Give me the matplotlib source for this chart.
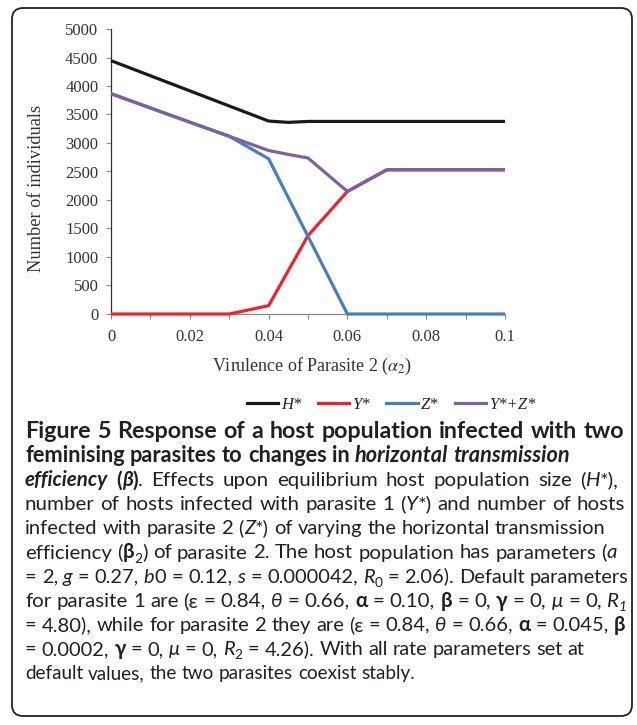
import matplotlib
matplotlib.use("Agg")
import re
import statistics
import matplotlib.pyplot as plt
from matplotlib.patches import FancyBboxPatch
from matplotlib.transforms import IdentityTransform
from matplotlib.lines import Line2D

# ---------------- data ----------------
alpha2 = [0.0, 0.01, 0.02, 0.03, 0.04, 0.045, 0.05, 0.06, 0.07, 0.08, 0.09, 0.10]
H_star = [4445, 4180, 3915, 3650, 3385, 3362, 3378, 3378, 3378, 3378, 3378, 3378]
Y_star = [0, 0, 0, 0, 146, 760, 1375, 2150, 2530, 2530, 2530, 2530]
Z_star = [3865, 3615, 3365, 3118, 2724, 2040, 1362, 0, 0, 0, 0, 0]
YZ_star = [3865, 3615, 3365, 3118, 2868, 2800, 2737, 2150, 2530, 2530, 2530, 2530]

series_labels = ["H*", "Y*", "Z*", "Y*+Z*"]
series_colors = ["#1a1a1a", "#ee2229", "#4a7ebb", "#7d60a0"]
y_ticks = [0, 500, 1000, 1500, 2000, 2500, 3000, 3500, 4000, 4500, 5000]
x_ticks = [0, 0.02, 0.04, 0.06, 0.08, 0.1]
x_ticklabels = ["0", "0.02", "0.04", "0.06", "0.08", "0.1"]
x_minor = [0.01, 0.03, 0.05, 0.07, 0.09]

W, Hpx = 637, 725
plt.rcParams["mathtext.fontset"] = "stix"
serif = ["Liberation Serif", "DejaVu Serif"]
fig = plt.figure(figsize=(W / 100, Hpx / 100), dpi=100)

def fx(px):
    return px / W

def fy(py):
    return 1 - py / Hpx

ax = fig.add_axes([fx(111), fy(314), (505 - 111) / W, (314 - 29) / Hpx])
ys = [H_star, Y_star, Z_star, YZ_star]
for i in range(4):
    ax.plot(alpha2, ys[i], color=series_colors[i], lw=2.3, solid_joinstyle="round",
            solid_capstyle="butt", clip_on=False, zorder=3 + i)

ax.set_xlim(0, 0.1)
ax.set_ylim(0, 5000)
ax.set_yticks(y_ticks)
ax.set_yticklabels([str(v) for v in y_ticks], family=serif, fontsize=12, color="#333333")
ax.set_xticks(x_ticks)
ax.set_xticklabels(x_ticklabels, family=serif, fontsize=12, color="#333333")
ax.set_xticks(x_minor, minor=True)
ax.tick_params(axis="both", which="both", direction="out", length=3.6, width=0.8,
               color="#8a8a8a")
ax.tick_params(axis="x", which="major", pad=7)
ax.tick_params(axis="y", which="major", pad=5.5)
for s in ["top", "right"]:
    ax.spines[s].set_visible(False)
ax.spines["left"].set_color("#333333")
ax.spines["bottom"].set_color("#8a8a8a")
ax.spines["left"].set_linewidth(0.9)
ax.spines["bottom"].set_linewidth(0.9)

fig.text(fx(37), fy(188), "Number of individuals", rotation=90, ha="center", va="center",
         family=serif, fontsize=13.2, color="#333333")
fig.text(fx(312), fy(366), r"Virulence of Parasite 2 ($\alpha_2$)", ha="center",
         va="center", family=serif, fontsize=13, color="#333333")

handles = [Line2D([0], [0], color=c, lw=2.3) for c in series_colors]
leg = fig.legend(handles, series_labels, loc="center", bbox_to_anchor=(fx(391), fy(405)),
                 ncol=4, frameon=False, handlelength=1.9, handletextpad=0.15,
                 columnspacing=1.0, prop={"family": serif, "style": "italic", "size": 12})
for t in leg.get_texts():
    t.set_color("#222222")

# border
box = FancyBboxPatch((12, Hpx - 716), 620, 708, boxstyle="round,pad=0,rounding_size=11",
                     transform=IdentityTransform(), fill=False, lw=1.3, ec="#222222")
fig.add_artist(box)

# ---------------- caption ----------------
cap_font = ["Lato", "DejaVu Sans"]
styles = {
    "r": dict(weight="normal", style="normal"),
    "i": dict(weight="normal", style="italic"),
    "b": dict(weight="bold", style="normal"),
    "bi": dict(weight="bold", style="italic"),
}
caption = [
    [("b", "Figure 5 Response of a host population infected with two")],
    [("b", "feminising parasites to changes in "), ("bi", "horizontal transmission")],
    [("bi", "efficiency"), ("b", " ("), ("bi", "β"), ("b", ")"),
     ("r", ". Effects upon equilibrium host population size ("), ("i", "H"), ("r", "*),")],
    [("r", "number of hosts infected with parasite 1 ("), ("i", "Y"), ("r", "*) and number of hosts")],
    [("r", "infected with parasite 2 ("), ("i", "Z"), ("r", "*) of varying the horizontal transmission")],
    [("r", "efficiency ("), ("b", "β"), ("r_sub", "2"),
     ("r", ") of parasite 2. The host population has parameters ("), ("i", "a")],
    [("r", "= 2, "), ("i", "g"), ("r", " = 0.27, "), ("i", "b"), ("r", "0 = 0.12, "), ("i", "s"),
     ("r", " = 0.000042, "), ("i", "R"), ("r_sub", "0"), ("r", " = 2.06). Default parameters")],
    [("r", "for parasite 1 are (ε = 0.84, "), ("i", "θ"), ("r", " = 0.66, "), ("b", "α"),
     ("r", " = 0.10, "), ("b", "β"), ("r", " = 0, "), ("b", "γ"), ("r", " = 0, "), ("i", "μ"),
     ("r", " = 0, "), ("i", "R"), ("i_sub", "1")],
    [("r", "= 4.80), while for parasite 2 they are (ε = 0.84, "), ("i", "θ"), ("r", " = 0.66, "),
     ("b", "α"), ("r", " = 0.045, "), ("b", "β")],
    [("r", "= 0.0002, "), ("b", "γ"), ("r", " = 0, "), ("i", "μ"), ("r", " = 0, "), ("i", "R"),
     ("r_sub", "2"), ("r", " = 4.26). With all rate parameters set at")],
    [("r", "default values, the two parasites coexist stably.")],
]
# right edge of each caption line in the reference (pixels) and whether it is a full line
line_right = [624, 566, 619, 625, 606, 615, 625, 627, 624, 582, 414]
full_line = [True, False, True, True, False, True, True, True, True, False, False]
bold_line = [True, True, False, False, False, False, False, False, False, False, False]

renderer = fig.canvas.get_renderer()
_cache = {}

def tw(txt, key, size):
    k = (txt, key, round(size, 3))
    if k not in _cache:
        t = fig.text(0, 0, txt, family=cap_font, fontsize=size, **styles[key])
        _cache[k] = t.get_window_extent(renderer).width
        t.remove()
    return _cache[k]

def tokens(segs):
    out = []
    for st, txt in segs:
        for piece in re.split(r"( )", txt):
            if piece:
                out.append((st, piece))
    return out

def layout(segs, size, extra=0.0, x0=25, yb=None):
    x = x0
    for st, piece in tokens(segs):
        sub = st.endswith("_sub")
        key = st[:-4] if sub else st
        sz = size * (0.68 if sub else 1.0)
        if piece == " ":
            x += tw("x x", key, sz) - tw("xx", key, sz) + extra
            continue
        if yb is not None:
            yy = yb + (size * 100 / 72 * 0.22 if sub else 0)
            fig.text(fx(round(x, 1)), fy(yy), piece, family=cap_font, fontsize=sz,
                     color="#231f20", ha="left", va="baseline", **styles[key])
        x += tw(piece, key, sz)
    return x - x0

x0 = 25
base0 = 438
lead = 24.1
base_size = 12.0
nat = [layout(s, base_size) for s in caption]
fit = [base_size * (line_right[i] - x0) / nat[i] for i in range(len(caption))]
S = statistics.median([fit[i] for i in range(len(caption)) if full_line[i] and not bold_line[i]])

for li, segs in enumerate(caption):
    cap = S * (1.14 if bold_line[li] else 1.0)
    size = min(cap, fit[li])
    extra = 0.0
    if full_line[li] and fit[li] > cap:
        w = layout(segs, size)
        nsp = sum(1 for _, p in tokens(segs) if p == " ")
        extra = (line_right[li] - x0 - w) / max(nsp, 1)
    layout(segs, size, extra=extra, yb=base0 + li * lead)

fig.savefig("out.png", dpi=100)
